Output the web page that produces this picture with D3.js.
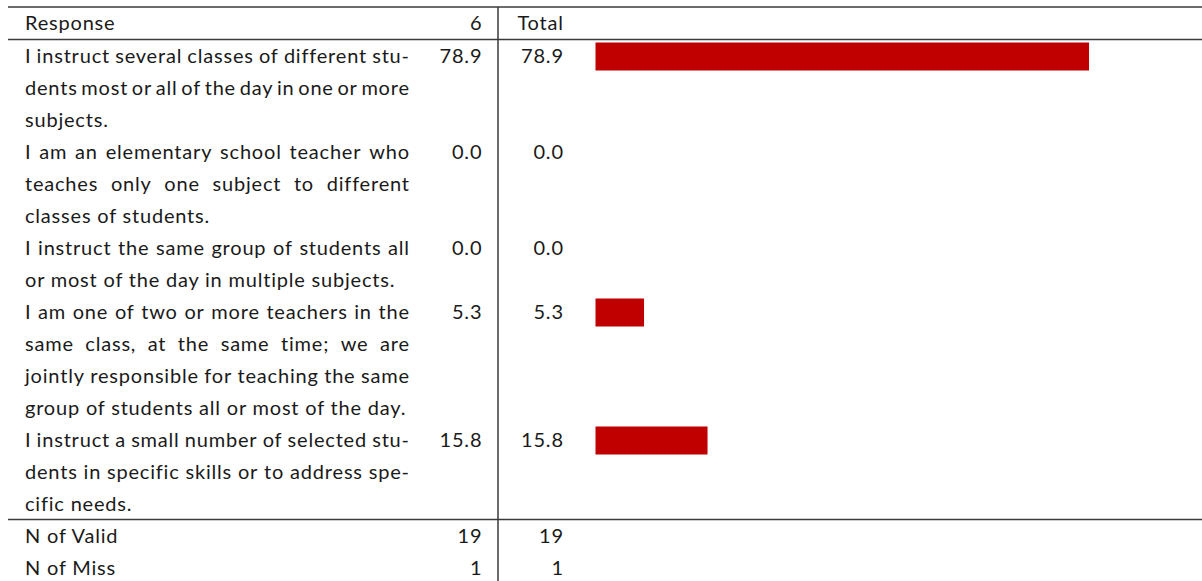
<!DOCTYPE html>
<html>
<head>
<meta charset="utf-8">
<script src="https://cdn.jsdelivr.net/npm/d3@7"></script>
<style>
  html, body { margin: 0; padding: 0; background: #fff; }
  svg { display: block; }
  text { font-family: "Lato", "Open Sans", sans-serif; font-size: 20px; letter-spacing: 0.8px; fill: #1a1a1a; }
</style>
</head>
<body>
<svg id="chart" width="1202" height="581"></svg>
<script>
// ---------- data ----------
const headers = ["Response", "6", "Total"];
const responseLines = [
  ["I instruct several classes of different stu-", "dents most or all of the day in one or more", "subjects."],
  ["I am an elementary school teacher who", "teaches only one subject to different", "classes of students."],
  ["I instruct the same group of students all", "or most of the day in multiple subjects."],
  ["I am one of two or more teachers in the", "same class, at the same time; we are", "jointly responsible for teaching the same", "group of students all or most of the day."],
  ["I instruct a small number of selected stu-", "dents in specific skills or to address spe-", "cific needs."]
];
const col6Values = [78.9, 0.0, 0.0, 5.3, 15.8];
const totalValues = [78.9, 0.0, 0.0, 5.3, 15.8];
const footerLabels = ["N of Valid", "N of Miss"];
const footer6 = [19, 1];
const footerTotal = [19, 1];

// ---------- layout ----------
const W = 1202, H = 581;
const svg = d3.select("#chart");
const ruleColor = "#3a3a3a";
const textLeft = 25, textRight = 409;
const col6Right = 481.5, totalRight = 563;
const vLineX = 498;
const barLeft = 595.5, barPad = 16.5, barH = 28;

// line index -> baseline
const yLine = d3.scaleLinear().domain([0, 1]).range([62.5, 94.5]);
const headerBaseline = 30;

// bar scale
const x = d3.scaleLinear().domain([0, 100]).range([barLeft + barPad, barLeft + barPad + 604.6]);

// ---------- rules ----------
const rules = [7, 39.5, 519.5];
svg.selectAll("line.h").data(rules).join("line")
  .attr("class", "h")
  .attr("x1", 8).attr("x2", W)
  .attr("y1", d => d).attr("y2", d => d)
  .attr("stroke", ruleColor).attr("stroke-width", 1.5);
svg.append("line")
  .attr("x1", vLineX).attr("x2", vLineX)
  .attr("y1", 7).attr("y2", H)
  .attr("stroke", ruleColor).attr("stroke-width", 1.5);

// ---------- text helpers ----------
const measurer = svg.append("text").attr("x", -1000).attr("y", -1000);
function measure(s) { measurer.text(s); return measurer.node().getComputedTextLength(); }

// right-align compensating trailing letter-spacing
function rightText(xr, y, s) {
  svg.append("text").attr("x", xr - measure(String(s)) + 0.8).attr("y", y).text(s);
}

function drawLine(str, y, justify) {
  if (!justify) {
    svg.append("text").attr("x", textLeft).attr("y", y).text(str);
    return;
  }
  const words = str.split(" ");
  const widths = words.map(measure);
  const total = d3.sum(widths);
  const gap = (textRight + 0.8 - textLeft - total) / (words.length - 1);
  let cx = textLeft;
  const g = svg.append("text").attr("y", y);
  words.forEach((w, i) => {
    g.append("tspan").attr("x", cx).text(w);
    cx += widths[i] + gap;
  });
}

// ---------- header ----------
svg.append("text").attr("x", textLeft).attr("y", headerBaseline).text(headers[0]);
rightText(col6Right, headerBaseline, headers[1]);
rightText(totalRight, headerBaseline, headers[2]);

// ---------- body ----------
let li = 0;
responseLines.forEach((lines, r) => {
  const first = li;
  lines.forEach((ln, k) => {
    drawLine(ln, yLine(li), k < lines.length - 1);
    li++;
  });
  const yb = yLine(first);
  rightText(col6Right, yb, col6Values[r].toFixed(1));
  rightText(totalRight, yb, totalValues[r].toFixed(1));
  if (totalValues[r] > 0) {
    svg.append("rect")
      .attr("x", barLeft)
      .attr("y", yb - 20)
      .attr("width", x(totalValues[r]) - barLeft)
      .attr("height", barH)
      .attr("fill", "#c00000");
  }
});

footerLabels.forEach((lab, i) => {
  const yb = yLine(li);
  svg.append("text").attr("x", textLeft).attr("y", yb).text(lab);
  rightText(col6Right, yb, footer6[i]);
  rightText(totalRight, yb, footerTotal[i]);
  li++;
});
measurer.remove();
</script>
</body>
</html>
